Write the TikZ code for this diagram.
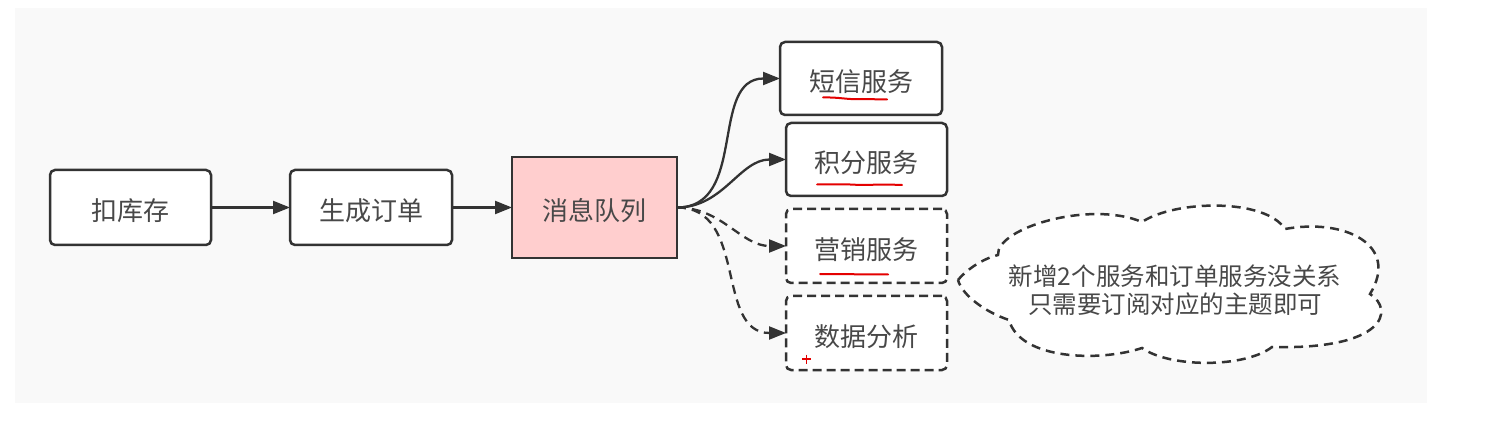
\documentclass[tikz,border=0pt]{standalone}
\usepackage{fontspec}
\newfontfamily\cjk{Noto Sans CJK SC}
\usetikzlibrary{arrows.meta}
\definecolor{bgc}{RGB}{249,249,249}
\definecolor{edgec}{RGB}{51,51,51}
\definecolor{txtc}{RGB}{72,72,72}
\definecolor{pinkc}{RGB}{255,206,206}
\definecolor{markc}{RGB}{228,0,0}
\newcommand\lowtext[1]{\raisebox{-3.5pt}[\height][\depth]{#1}}
\begin{document}
\begin{tikzpicture}[x=1pt,y=-1pt,
 box/.style={draw=edgec, line width=2.5pt, rounded corners=5pt, fill=white, font=\cjk\fontsize{26}{30}\selectfont, text=txtc, inner sep=0pt, outer sep=0pt},
 dbox/.style={box, dash pattern=on 9pt off 5pt},
 conn/.style={draw=edgec, line width=2.3pt, -{Triangle[length=17pt,width=13pt]}},
 dconn/.style={conn, dash pattern=on 9pt off 6pt},
 redmark/.style={draw=markc, line width=2pt, line cap=round},
 cloudline/.style={draw=edgec, line width=2.5pt, dash pattern=on 9pt off 6pt, fill=white}]
\useasboundingbox (0,0) rectangle (1485,427);
\fill[white] (0,0) rectangle (1485,427);
\fill[bgc] (15,8) rectangle (1427,403);

\node[box, minimum width=161pt, minimum height=75pt] (stock) at (130.5,207.5) {\lowtext{扣库存}};
\node[box, minimum width=162pt, minimum height=75pt] (order) at (371,207.5) {\lowtext{生成订单}};
\node[box, rounded corners=0pt, fill=pinkc, minimum width=165pt, minimum height=101pt] (mq) at (594.5,207.5) {\lowtext{消息队列}};
\node[box, minimum width=162pt, minimum height=73pt] (sms) at (861,78.5) {\lowtext{短信服务}};
\node[box, minimum width=161pt, minimum height=73pt] (points) at (866.5,159.5) {\lowtext{积分服务}};
\node[dbox, minimum width=161pt, minimum height=74pt] (market) at (866.5,246) {\lowtext{营销服务}};
\node[dbox, minimum width=161pt, minimum height=74pt] (data) at (866.5,333) {\lowtext{数据分析}};

\draw[conn] (stock) -- (order);
\draw[conn] (order) -- (mq);
\draw[conn] (mq.east) to[out=0,in=180,looseness=1.1] (sms.west);
\draw[conn] (mq.east) to[out=0,in=180] (points.west);
\draw[dconn] (mq.east) to[out=0,in=180] (market.west);
\draw[dconn] (mq.east) to[out=0,in=180,looseness=1.1] (data.west);

% cloud
\path[cloudline] (958,280)
  .. controls (968,268) and (985,258) .. (998,255)
  .. controls (996,228) and (1090,200) .. (1142,222)
  .. controls (1175,200) and (1265,198) .. (1285,229)
  .. controls (1345,218) and (1400,245) .. (1370,294)
  .. controls (1395,310) and (1385,350) .. (1272,347)
  .. controls (1245,368) and (1170,368) .. (1142,348)
  .. controls (1100,362) and (1020,360) .. (1009,320)
  .. controls (985,312) and (962,295) .. cycle;
\node[font=\cjk\fontsize{24.5}{28}\selectfont, text=txtc, align=center, inner sep=0pt] (note) at (1175,290) {新增2个服务和订单服务没关系\\只需要订阅对应的主题即可};

% red annotation marks
\draw[redmark] (823,97.5) .. controls (840,97) and (848,100) .. (862,99) -- (887,99.5);
\draw[redmark] (817,184.5) -- (850,184.5) .. controls (865,185.5) and (880,184) .. (902,185);
\draw[redmark] (820,274) -- (888,274.5);
\draw[draw=markc, line width=1.5pt] (802,359) -- (811,359) (806.5,354.5) -- (806.5,363.5);
\end{tikzpicture}
\end{document}
